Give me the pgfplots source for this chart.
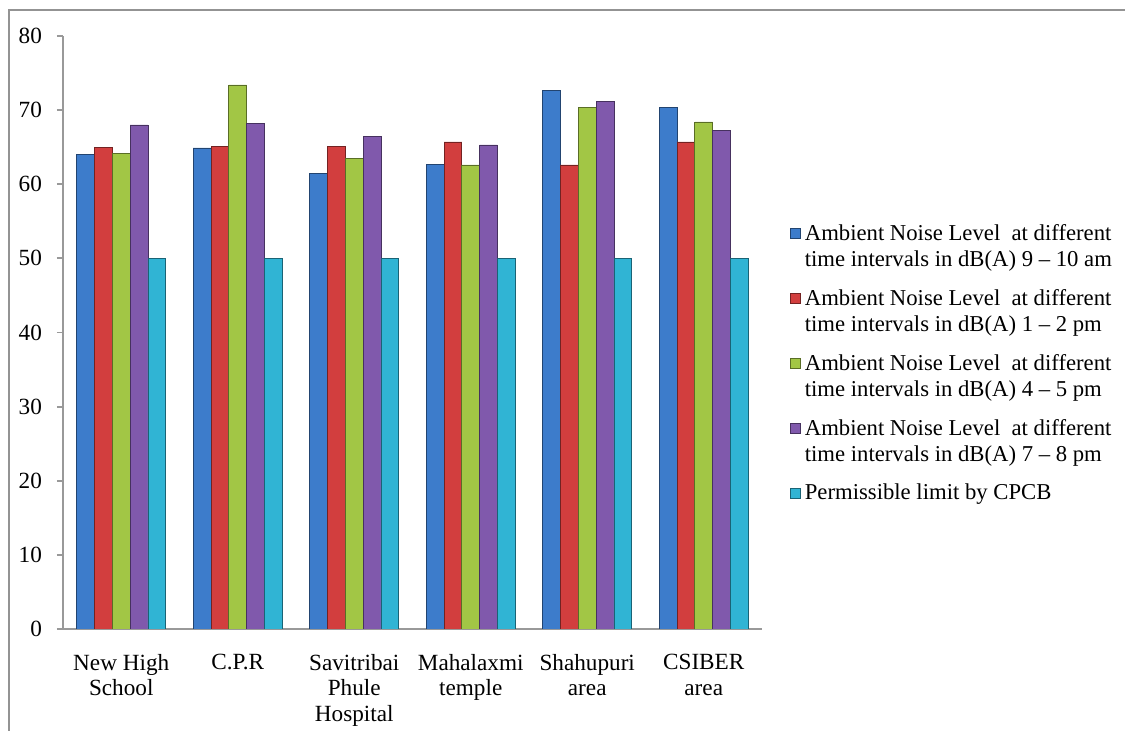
\documentclass[border=0pt]{standalone}
\usepackage{fontspec}
\setmainfont{Liberation Serif}
\usepackage{pgfplots}
\pgfplotsset{compat=1.18}
\definecolor{cBlue}{HTML}{3D7CCB}
\definecolor{cRed}{HTML}{D23E3E}
\definecolor{cGreen}{HTML}{A2C645}
\definecolor{cPurple}{HTML}{8059AC}
\definecolor{cCyan}{HTML}{30B4D4}
\pgfplotsset{raisedimg/.style={legend image code/.code={\draw[##1] (0pt,4pt) rectangle (5pt,9pt);}}}
\begin{document}
\begin{tikzpicture}
\useasboundingbox (-31.5pt,-51pt) rectangle (531pt,314.5pt);
\draw[gray!85, line width=1.2pt] (-27pt,-51pt) -- (-27pt,309.5pt) -- (531pt,309.5pt);
\begin{axis}[
  at={(0pt,0pt)}, anchor=south west,
  scale only axis, width=349.5pt, height=296.5pt,
  ybar=0pt, bar width=0.153,
  xmin=-0.5, xmax=5.5, ymin=0, ymax=80,
  ytick={0,10,...,80},
  axis lines*=left,
  axis line style={gray!80, line width=0.9pt},
  tick align=outside,
  ytick style={gray!80, line width=0.9pt},
  major tick length=3pt,
  xtick={0,...,5},
  xticklabels={New High\\School, C.P.R, Savitribai\\Phule\\Hospital, Mahalaxmi\\temple, Shahupuri\\area, CSIBER\\area},
  x tick style={draw=none},
  extra x ticks={-0.5,0.5,1.5,2.5,3.5,4.5,5.5},
  extra x tick labels={},
  extra x tick style={tick style={draw=gray!80, line width=0.9pt}, major tick length=4pt},
  xticklabel style={align=center, font=\fontsize{11.6}{12.8}\selectfont, yshift=-6pt},
  yticklabel style={font=\fontsize{11.6}{12.8}\selectfont, xshift=-4pt},
  /pgf/number format/assume math mode=true,
  legend style={at={(1.031,0.697)}, anchor=north west, draw=none,
    font=\fontsize{11.35}{13}\selectfont,
    cells={align=left}, row sep=6pt},
  legend cell align=left,
  legend image code/.code={\draw[#1] (0pt,-2.5pt) rectangle (5pt,2.5pt);},
]
\addplot[draw=cBlue!55!black, fill=cBlue, raisedimg] coordinates {(0,64.0) (1,64.9) (2,61.5) (3,62.7) (4,72.7) (5,70.3)};
\addplot[draw=cRed!55!black, fill=cRed, raisedimg] coordinates {(0,65.0) (1,65.1) (2,65.1) (3,65.7) (4,62.6) (5,65.7)};
\addplot[draw=cGreen!55!black, fill=cGreen, raisedimg] coordinates {(0,64.2) (1,73.4) (2,63.5) (3,62.6) (4,70.3) (5,68.4)};
\addplot[draw=cPurple!55!black, fill=cPurple, raisedimg] coordinates {(0,68.0) (1,68.2) (2,66.4) (3,65.3) (4,71.2) (5,67.3)};
\addplot[draw=cCyan!55!black, fill=cCyan] coordinates {(0,50) (1,50) (2,50) (3,50) (4,50) (5,50)};
\legend{Ambient Noise Level\ \ at different\\time intervals in dB(A) 9 – 10 am,
Ambient Noise Level\ \ at different\\time intervals in dB(A) 1 – 2 pm,
Ambient Noise Level\ \ at different\\time intervals in dB(A) 4 – 5 pm,
Ambient Noise Level\ \ at different\\time intervals in dB(A) 7 – 8 pm,
Permissible limit by CPCB}
\end{axis}
\end{tikzpicture}
\end{document}
